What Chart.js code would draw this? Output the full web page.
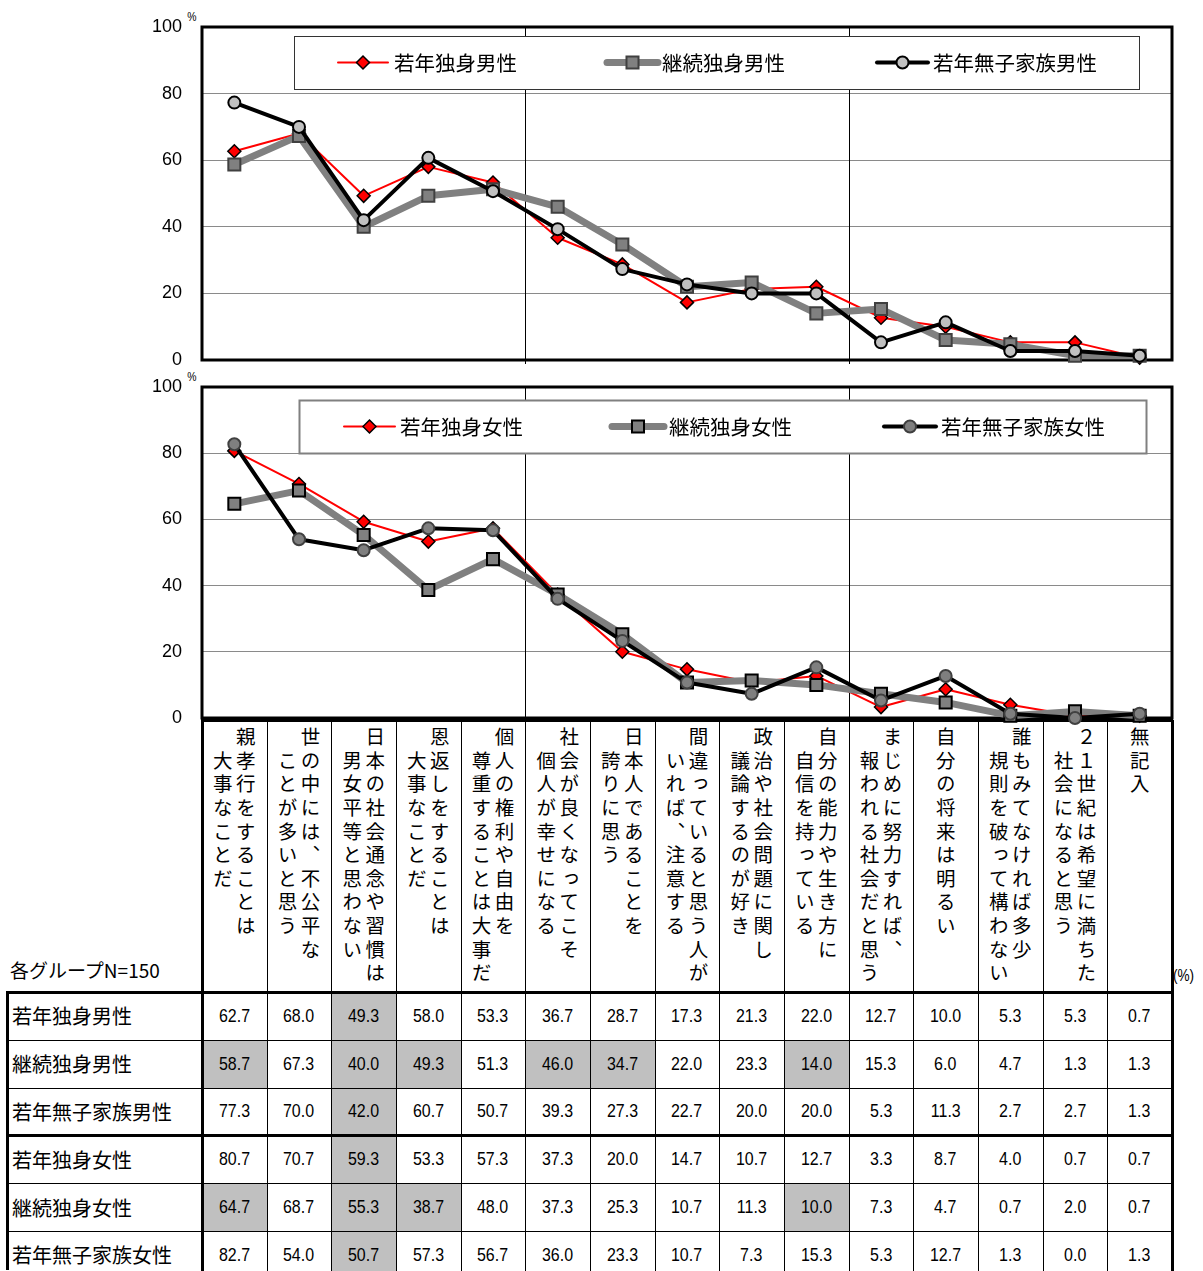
<!DOCTYPE html>
<html><head><meta charset="utf-8">
<script src="https://cdn.jsdelivr.net/npm/chart.js@4"></script>
<style>
html,body{margin:0;padding:0;background:#fff;}
body{width:1203px;height:1271px;position:relative;overflow:hidden;font-family:"Noto Sans CJK JP","Noto Sans",sans-serif;color:#000;}
.wrap{position:absolute;left:0;width:1203px;z-index:3;}
.abs{position:absolute;box-sizing:border-box;}
.hl{position:absolute;background:#000;}
.vt{writing-mode:vertical-rl;text-orientation:upright;font-size:19.5px;line-height:23px;letter-spacing:4.1px;white-space:pre;font-family:"Noto Sans CJK JP",sans-serif;}
.num{font-family:"Liberation Sans",Arial,sans-serif;font-size:19px;text-align:center;display:flex;align-items:center;justify-content:center;}
.num span{display:inline-block;transform:scaleX(0.84);}
.rl{font-size:20px;display:flex;align-items:center;padding-left:5px;}
.pct{position:absolute;font-family:"Liberation Sans",sans-serif;font-size:13px;transform:scaleX(0.8);}
</style>
</head><body>
<div class="wrap" style="top:0;height:372px"><canvas id="c1" width="1203" height="372"></canvas></div>
<div class="wrap" style="top:360px;height:372px"><canvas id="c2" width="1203" height="372"></canvas></div>
<div class="pct" style="left:186px;top:9px">%</div>
<div class="pct" style="left:186px;top:369px">%</div>
<div id="tbl"></div>
<script>
// ---- DATA ----
const categories = [
  ["親孝行をすることは","大事なことだ"],
  ["世の中には、不公平な","ことが多いと思う"],
  ["日本の社会通念や習慣は","男女平等と思わない"],
  ["恩返しをすることは","大事なことだ"],
  ["個人の権利や自由を","尊重することは大事だ"],
  ["社会が良くなってこそ","個人が幸せになる"],
  ["日本人であることを","誇りに思う"],
  ["間違っていると思う人が","いれば、注意する"],
  ["政治や社会問題に関し","議論するのが好き"],
  ["自分の能力や生き方に","自信を持っている"],
  ["まじめに努力すれば、","報われる社会だと思う"],
  ["自分の将来は明るい"],
  ["誰もみてなければ多少","規則を破って構わない"],
  ["２１世紀は希望に満ちた","社会になると思う"],
  ["無記入"]
];
const maleNames = ["若年独身男性","継続独身男性","若年無子家族男性"];
const femaleNames = ["若年独身女性","継続独身女性","若年無子家族女性"];
const maleYoungSingle   = [62.7,68.0,49.3,58.0,53.3,36.7,28.7,17.3,21.3,22.0,12.7,10.0,5.3,5.3,0.7];
const maleContSingle    = [58.7,67.3,40.0,49.3,51.3,46.0,34.7,22.0,23.3,14.0,15.3,6.0,4.7,1.3,1.3];
const maleYoungNoChild  = [77.3,70.0,42.0,60.7,50.7,39.3,27.3,22.7,20.0,20.0,5.3,11.3,2.7,2.7,1.3];
const femYoungSingle    = [80.7,70.7,59.3,53.3,57.3,37.3,20.0,14.7,10.7,12.7,3.3,8.7,4.0,0.7,0.7];
const femContSingle     = [64.7,68.7,55.3,38.7,48.0,37.3,25.3,10.7,11.3,10.0,7.3,4.7,0.7,2.0,0.7];
const femYoungNoChild   = [82.7,54.0,50.7,57.3,56.7,36.0,23.3,10.7,7.3,15.3,5.3,12.7,1.3,0.0,1.3];
const yTicks = [0,20,40,60,80,100];
const highlighted = [[2],[0,2,3,5,6,9],[2],[2],[0,2,3,9],[2]];
const groupNote = "各グループN=150";
const unitNote = "(%)";

// ---- CHARTS ----
const PLOT_L = 202, PLOT_R = 1172;
function datasets(names, vals, female){
  return [
    {label:names[0],data:vals[0],borderColor:'#ff0000',borderWidth:2,pointStyle:'rectRot',pointRadius:6.5,
     pointBackgroundColor:'#ff0000',pointBorderColor:'#000',pointBorderWidth:1.5,order:3},
    {label:names[1],data:vals[1],borderColor:'#808080',borderWidth:7,pointStyle:'rect',pointRadius:8.5,
     pointBackgroundColor:'#808080',pointBorderColor:female?'#000':'#404040',pointBorderWidth:2,order:2},
    {label:names[2],data:vals[2],borderColor:'#000',borderWidth:4,pointStyle:'circle',pointRadius:6,
     pointBackgroundColor:female?'#7f7f7f':'#c0c0c0',pointBorderColor:female?'#404040':'#000',pointBorderWidth:2,order:1}
  ].map(d=>Object.assign(d,{fill:false,tension:0,clip:false,borderJoinStyle:'round',pointHoverRadius:d.pointRadius}));
}
const framePlugin = {
  id:'frameLegend',
  beforeDatasetsDraw(chart, args, o){
    const ctx = chart.ctx, a = chart.chartArea;
    ctx.save();
    ctx.lineWidth = 1; ctx.strokeStyle = '#000';
    const xs = chart.scales.x;
    [5,10].forEach(i=>{const x=Math.round((xs.getPixelForTick(i-1)+xs.getPixelForTick(i))/2)+.5;ctx.beginPath();ctx.moveTo(x,a.top);ctx.lineTo(x,a.bottom+4);ctx.stroke();});
    ctx.lineWidth = 3; ctx.strokeStyle = '#000';
    ctx.strokeRect(a.left, a.top, a.right - a.left, a.bottom - a.top);
    const L = o.box;
    ctx.fillStyle = '#fff';
    ctx.fillRect(L.x, L.y, L.w, L.h);
    ctx.lineWidth = L.bw; ctx.strokeStyle = L.bc;
    ctx.strokeRect(L.x + .5, L.y + .5, L.w, L.h);
    const cy = L.y + L.h/2;
    chart.data.datasets.forEach((ds, i) => {
      const it = o.items[i];
      ctx.beginPath(); ctx.lineWidth = ds.borderWidth; ctx.strokeStyle = ds.borderColor; ctx.lineCap = 'round';
      ctx.moveTo(it[0], cy); ctx.lineTo(it[1], cy); ctx.stroke();
      ctx.fillStyle = ds.pointBackgroundColor; ctx.strokeStyle = ds.pointBorderColor; ctx.lineWidth = ds.pointBorderWidth;
      Chart.helpers.drawPoint(ctx, {pointStyle: ds.pointStyle, radius: ds.pointRadius, borderWidth: ds.pointBorderWidth, rotation:0}, (it[0]+it[1])/2, cy);
      ctx.fillStyle = '#000'; ctx.font = '20.5px "Noto Sans CJK JP"'; ctx.textBaseline = 'middle'; ctx.textAlign = 'left';
      ctx.fillText(ds.label, it[2], cy + 1);
    });
    ctx.restore();
  }
};
function makeChart(id, names, vals, female, padTop, padBottom, box, items){
  return new Chart(document.getElementById(id), {
    type:'line',
    data:{labels:categories.map(c=>c.join('')), datasets:datasets(names, vals, female)},
    options:{
      responsive:false, animation:false, devicePixelRatio:1,
      layout:{padding:{left:0,right:1203-PLOT_R,top:padTop,bottom:padBottom}},
      plugins:{legend:{display:false},tooltip:{enabled:false},frameLegend:{box:box,items:items}},
      scales:{
        x:{type:'category',offset:true,
           grid:{offset:true,drawTicks:false,lineWidth:1,color:'rgba(0,0,0,0)'},
           ticks:{display:false},border:{display:false},afterFit(s){s.height=0;}},
        y:{min:0,max:100,afterBuildTicks(s){s.ticks=yTicks.map(v=>({value:v}));},
           ticks:{padding:20,color:'#000',font:{family:'"Liberation Sans", Arial, sans-serif',size:18}},
           grid:{drawTicks:false,lineWidth:1,color:c=>(c.tick&&(c.tick.value===0||c.tick.value===100))?'rgba(0,0,0,0)':'#8a8a8a'},
           border:{display:false},afterFit(s){s.width=PLOT_L;s.paddingTop=0;s.paddingBottom=0;}}
      }
    },
    plugins:[framePlugin]
  });
}
makeChart('c1', maleNames, [maleYoungSingle,maleContSingle,maleYoungNoChild], false, 27, 12,
  {x:294,y:36,w:845,h:53,bw:1,bc:'#333'}, [[338,388,394],[607,658,662],[877,928,933]]);
makeChart('c2', femaleNames, [femYoungSingle,femContSingle,femYoungNoChild], true, 27, 14,
  {x:299,y:40,w:847,h:53,bw:2,bc:'#808080'}, [[344,395,400],[612,664,669],[884,936,941]]);

// ---- TABLE ----
const tbl = document.getElementById('tbl');
const colW = (PLOT_R - PLOT_L)/15, X0 = PLOT_L;
const HEAD_T = 720, ROW_T = 992, ROW_H = 47.8, LEFT = 7;
const rows = [
  [maleNames[0], maleYoungSingle],[maleNames[1], maleContSingle],[maleNames[2], maleYoungNoChild],
  [femaleNames[0], femYoungSingle],[femaleNames[1], femContSingle],[femaleNames[2], femYoungNoChild]
];
function el(cls, style, html){const d=document.createElement('div');d.className=cls;d.style.cssText=style;if(html!==undefined)d.innerHTML=html;tbl.appendChild(d);return d;}
rows.forEach((r, ri) => {
  const top = ROW_T + ri*ROW_H;
  el('abs rl', `left:${LEFT}px;top:${top}px;width:${X0-LEFT}px;height:${ROW_H}px;`, r[0]);
  r[1].forEach((v, ci) => {
    const bg = highlighted[ri].includes(ci) ? 'background:#c0c0c0;' : '';
    el('abs num', `left:${X0+ci*colW}px;top:${top}px;width:${colW}px;height:${ROW_H}px;${bg}`, '<span>'+v.toFixed(1)+'</span>');
  });
});
categories.forEach((c, ci) => {
  const txt = c.length > 1 ? c[0] + '\n\u3000' + c[1] : c[0];
  const h = el('abs', `left:${X0+ci*colW}px;top:${HEAD_T}px;width:${colW}px;height:${ROW_T-HEAD_T}px;display:flex;justify-content:center;padding-top:7px;`);
  const v = document.createElement('div'); v.className='vt'; v.textContent = txt; h.appendChild(v);
});
el('abs', `left:10px;top:${ROW_T-36}px;font-size:19px;white-space:nowrap;`, groupNote);
el('abs', `left:1173px;top:${ROW_T-25}px;font-size:16px;font-family:"Liberation Sans",sans-serif;transform:scaleX(0.85);transform-origin:left;`, unitNote);
for (let i = 1; i < 15; i++) el('hl', `left:${Math.round(X0+i*colW)}px;top:${HEAD_T}px;width:1px;height:${1271-HEAD_T}px;`);
for (let r = 1; r < 7; r++) el('hl', `left:${LEFT}px;top:${Math.round(ROW_T+r*ROW_H)}px;width:${PLOT_R-LEFT}px;height:1px;`);
el('hl', `left:${X0-1}px;top:${HEAD_T-1}px;width:${PLOT_R-X0+2}px;height:3px;`);
el('hl', `left:${X0-1}px;top:${HEAD_T}px;width:3px;height:${1271-HEAD_T}px;`);
el('hl', `left:${PLOT_R-1}px;top:${HEAD_T}px;width:3px;height:${1271-HEAD_T}px;`);
el('hl', `left:${LEFT-1}px;top:${ROW_T-1}px;width:3px;height:${1271-ROW_T}px;`);
el('hl', `left:${LEFT-1}px;top:${ROW_T-1}px;width:${PLOT_R-LEFT+2}px;height:3px;`);
el('hl', `left:${LEFT-1}px;top:${Math.round(ROW_T+3*ROW_H)-1}px;width:${PLOT_R-LEFT+2}px;height:3px;`);
</script>
</body></html>
